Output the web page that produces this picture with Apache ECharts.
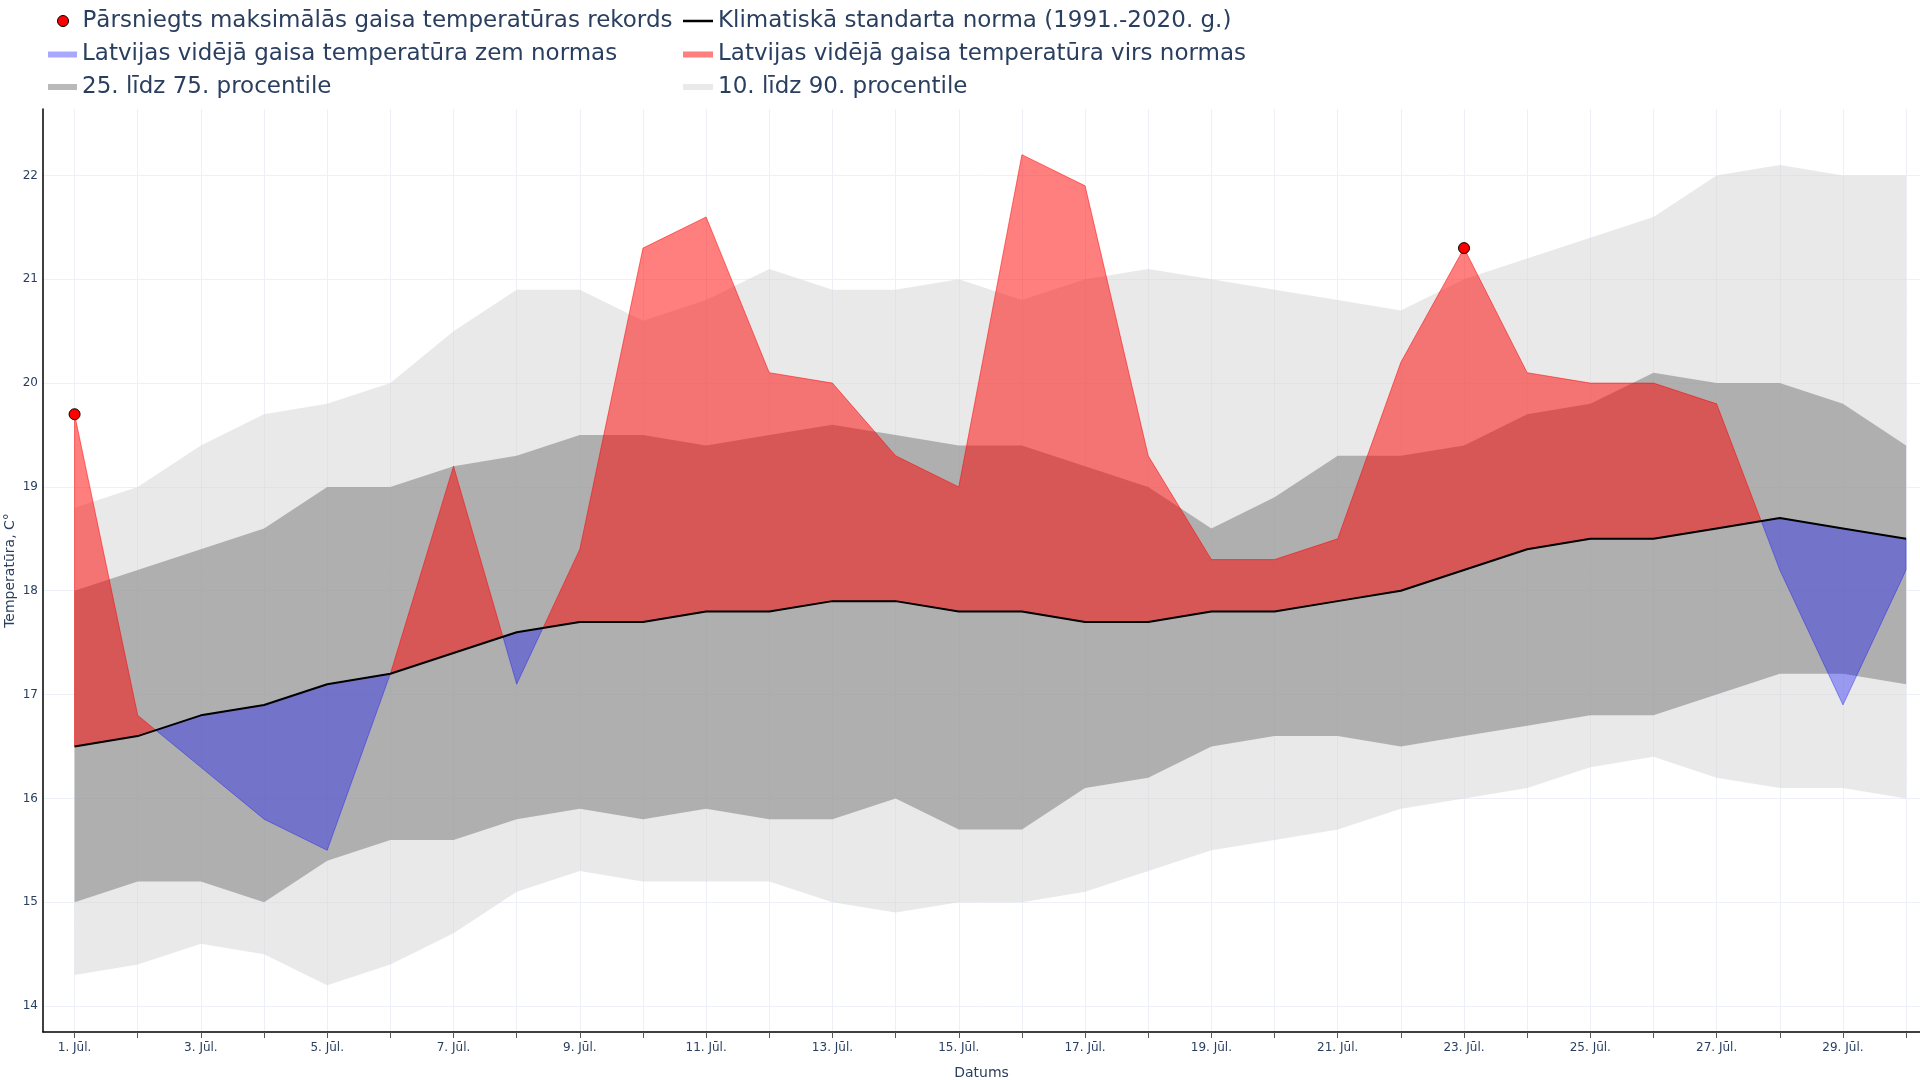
<!DOCTYPE html>
<html><head><meta charset="utf-8">
<script src="https://cdn.jsdelivr.net/npm/echarts@6/dist/echarts.min.js"></script>
<style>html,body{margin:0;padding:0;background:#fff}#c{width:1920px;height:1080px}</style>
</head><body><div id="c"></div>
<script>
const dayLabels = ['1. Jūl.','2. Jūl.','3. Jūl.','4. Jūl.','5. Jūl.','6. Jūl.','7. Jūl.','8. Jūl.','9. Jūl.','10. Jūl.',
  '11. Jūl.','12. Jūl.','13. Jūl.','14. Jūl.','15. Jūl.','16. Jūl.','17. Jūl.','18. Jūl.','19. Jūl.','20. Jūl.',
  '21. Jūl.','22. Jūl.','23. Jūl.','24. Jūl.','25. Jūl.','26. Jūl.','27. Jūl.','28. Jūl.','29. Jūl.','30. Jūl.'];
const yTicks = [14,15,16,17,18,19,20,21,22];
const normTemp   = [16.5,16.6,16.8,16.9,17.1,17.2,17.4,17.6,17.7,17.7,17.8,17.8,17.9,17.9,17.8,17.8,17.7,17.7,17.8,17.8,17.9,18.0,18.2,18.4,18.5,18.5,18.6,18.7,18.6,18.5];
const actualTemp = [19.7,16.8,16.3,15.8,15.5,17.2,19.2,17.1,18.4,21.3,21.6,20.1,20.0,19.3,19.0,22.2,21.9,19.3,18.3,18.3,18.5,20.2,21.3,20.1,20.0,20.0,19.8,18.2,16.9,18.2];
const p10 = [14.3,14.4,14.6,14.5,14.2,14.4,14.7,15.1,15.3,15.2,15.2,15.2,15.0,14.9,15.0,15.0,15.1,15.3,15.5,15.6,15.7,15.9,16.0,16.1,16.3,16.4,16.2,16.1,16.1,16.0];
const p25 = [15.0,15.2,15.2,15.0,15.4,15.6,15.6,15.8,15.9,15.8,15.9,15.8,15.8,16.0,15.7,15.7,16.1,16.2,16.5,16.6,16.6,16.5,16.6,16.7,16.8,16.8,17.0,17.2,17.2,17.1];
const p75 = [18.0,18.2,18.4,18.6,19.0,19.0,19.2,19.3,19.5,19.5,19.4,19.5,19.6,19.5,19.4,19.4,19.2,19.0,18.6,18.9,19.3,19.3,19.4,19.7,19.8,20.1,20.0,20.0,19.8,19.4];
const p90 = [18.8,19.0,19.4,19.7,19.8,20.0,20.5,20.9,20.9,20.6,20.8,21.1,20.9,20.9,21.0,20.8,21.0,21.1,21.0,20.9,20.8,20.7,21.0,21.2,21.4,21.6,22.0,22.1,22.0,22.0];
const recordDays = ['1. Jūl.','23. Jūl.'];

const NAME_REC = 'Pārsniegts maksimālās gaisa temperatūras rekords';
const NAME_NORM = 'Klimatiskā standarta norma (1991.-2020. g.)';
const NAME_BELOW = 'Latvijas vidējā gaisa temperatūra zem normas';
const NAME_ABOVE = 'Latvijas vidējā gaisa temperatūra virs normas';
const NAME_P25 = '25. līdz 75. procentile';
const NAME_P10 = '10. līdz 90. procentile';

const C_RED = 'rgba(255,0,0,0.5)';
const C_BLUE = 'rgba(0,0,255,0.34)';
const C_LIGHT = 'rgba(211,211,211,0.5)';
const C_DARK = 'rgba(128,128,128,0.55)';
const TXT = '#2a3f5f';
const FONT = 'DejaVu Sans';

const idx = dayLabels.map((_, i) => i);

function signRegions(sign) {
  const n = actualTemp.length, polys = [];
  let top = null, bot = null;
  for (let i = 0; i < n; i++) {
    const d = sign * (actualTemp[i] - normTemp[i]);
    if (d > 0) {
      if (!top) { top = []; bot = []; }
      top.push([i, actualTemp[i]]); bot.push([i, normTemp[i]]);
    }
    if (i < n - 1) {
      const dn = sign * (actualTemp[i + 1] - normTemp[i + 1]);
      if ((d > 0) !== (dn > 0) && d !== dn) {
        const t = d / (d - dn);
        const c = [i + t, normTemp[i] + t * (normTemp[i + 1] - normTemp[i])];
        if (d > 0) { top.push(c); polys.push(top.concat(bot.reverse())); top = null; bot = null; }
        else { top = [c]; bot = []; }
      }
    }
  }
  if (top) polys.push(top.concat(bot.reverse()));
  return polys;
}

function bandSeries(name, lower, upper, color) {
  return {
    type: 'custom', name, silent: true, z: 1,
    data: idx.map(i => [i, lower[i], upper[i]]),
    renderItem: (params, api) => {
      if (params.dataIndex !== 0) return null;
      const pts = [];
      idx.forEach(i => pts.push(api.coord([i, upper[i]])));
      idx.slice().reverse().forEach(i => pts.push(api.coord([i, lower[i]])));
      return { type: 'polygon', shape: { points: pts }, style: { fill: color } };
    }
  };
}

function diffSeries(name, sign, color) {
  const polys = signRegions(sign);
  return {
    type: 'custom', name, silent: true, z: 2,
    data: idx.map(i => [i, actualTemp[i]]),
    renderItem: (params, api) => {
      if (params.dataIndex !== 0) return null;
      return {
        type: 'group',
        children: polys.map(p => ({
          type: 'polygon',
          shape: { points: p.map(pt => api.coord(pt)) },
          style: { fill: color, stroke: color, lineWidth: 1 }
        }))
      };
    }
  };
}

function legendItem(name, left, top, icon, w, h, itemStyle) {
  return {
    show: true, left, top, padding: 0, itemWidth: w, itemHeight: h, selectedMode: false,
    textStyle: { fontSize: 23, color: TXT, fontFamily: FONT },
    data: [{ name, icon, itemStyle }]
  };
}

const chart = echarts.init(document.getElementById('c'), null, { renderer: 'canvas' });
chart.setOption({
  animation: false,
  backgroundColor: '#fff',
  textStyle: { fontFamily: FONT },
  legend: [
    legendItem(NAME_REC, 57, 9.5, 'circle', 29, 11, { color: '#ff0000', borderColor: '#000', borderWidth: 1 }),
    legendItem(NAME_NORM, 683, 9.5, 'rect', 30, 2.5, { color: '#000', borderWidth: 0 }),
    legendItem(NAME_BELOW, 48, 43, 'rect', 29, 6, { color: C_BLUE, borderWidth: 0 }),
    legendItem(NAME_ABOVE, 683, 43, 'rect', 30, 6, { color: C_RED, borderWidth: 0 }),
    legendItem(NAME_P25, 48, 75.5, 'rect', 29, 6, { color: 'rgb(185,185,185)', borderWidth: 0 }),
    legendItem(NAME_P10, 683, 75.5, 'rect', 30, 6, { color: 'rgb(233,233,233)', borderWidth: 0 })
  ],
  grid: { left: 43, top: 109, right: 0, bottom: 48, containLabel: false, outerBoundsMode: 'none' },
  xAxis: {
    type: 'value', min: -0.5, max: 29.22,
    name: 'Datums', nameLocation: 'middle', nameGap: 34, nameMoveOverlap: false,
    nameTextStyle: { fontSize: 14, color: TXT, fontFamily: FONT },
    axisLine: { show: true, onZero: false, lineStyle: { color: '#000', width: 1.5 } },
    axisTick: { show: true, length: 6, lineStyle: { color: '#555', width: 1 }, customValues: idx },
    axisLabel: { customValues: idx.filter(i => i % 2 === 0), formatter: v => dayLabels[Math.round(v)], fontSize: 12, color: TXT, margin: 10, fontFamily: FONT },
    splitLine: { show: true, lineStyle: { color: '#edf1f7', width: 1 } }
  },
  yAxis: {
    type: 'value', min: 13.75, max: 22.64,
    name: 'Temperatūra, C°', nameLocation: 'middle', nameGap: 26, nameRotate: 90, nameMoveOverlap: false,
    nameTextStyle: { fontSize: 14, color: TXT, fontFamily: FONT },
    axisLine: { show: true, onZero: false, lineStyle: { color: '#000', width: 1.5 } },
    axisTick: { show: false, customValues: yTicks },
    axisLabel: { customValues: yTicks, fontSize: 12, color: TXT, margin: 5, fontFamily: FONT },
    splitLine: { show: true, lineStyle: { color: '#edf1f7', width: 1 } }
  },
  series: [
    bandSeries(NAME_P10, p10, p90, C_LIGHT),
    bandSeries(NAME_P25, p25, p75, C_DARK),
    diffSeries(NAME_ABOVE, 1, C_RED),
    diffSeries(NAME_BELOW, -1, C_BLUE),
    {
      type: 'line', name: NAME_NORM, z: 3, silent: true,
      data: idx.map(i => [i, normTemp[i]]),
      symbol: 'none', lineStyle: { color: '#000', width: 2 }, itemStyle: { color: '#000' }
    },
    {
      type: 'scatter', name: NAME_REC, z: 4, silent: true,
      data: recordDays.map(l => { const i = dayLabels.indexOf(l); return [i, actualTemp[i]]; }),
      symbol: 'circle', symbolSize: 11,
      itemStyle: { color: '#ff0000', borderColor: '#000', borderWidth: 1, opacity: 1 }
    }
  ]
});
</script></body></html>
